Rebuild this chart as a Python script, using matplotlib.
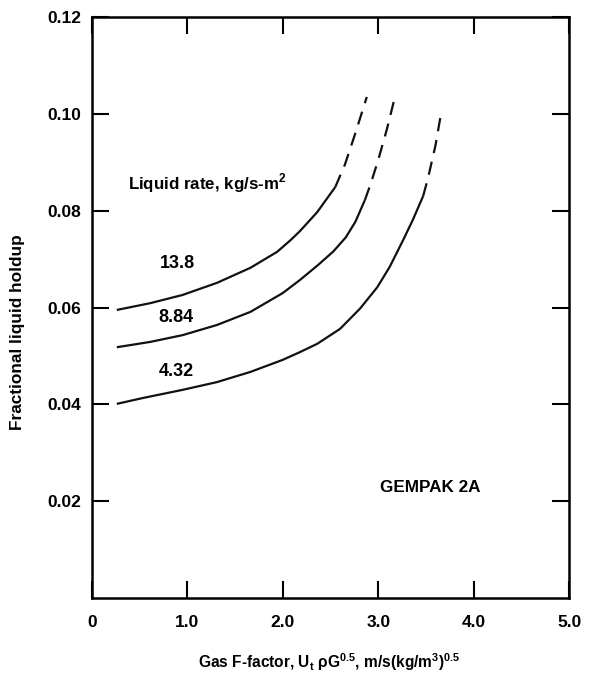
import matplotlib
matplotlib.use("Agg")
import matplotlib.pyplot as plt

plt.rcParams['font.family'] = ['Liberation Sans', 'DejaVu Sans']
plt.rcParams['font.weight'] = 'bold'
plt.rcParams['axes.labelweight'] = 'bold'
plt.rcParams['mathtext.fontset'] = 'custom'
plt.rcParams['mathtext.rm'] = 'Liberation Sans:bold'

# liquid rate labels (kg/s-m2)
rates = ["13.8", "8.84", "4.32"]

# solid (measured) parts of each curve
solid_x = [
    [0.26, 0.61, 0.95, 1.31, 1.66, 1.94, 2.08, 2.18, 2.36, 2.55],
    [0.26, 0.61, 0.95, 1.31, 1.66, 2.00, 2.18, 2.37, 2.53, 2.66, 2.76, 2.86],
    [0.26, 0.53, 0.95, 1.31, 1.66, 2.00, 2.18, 2.36, 2.60, 2.81, 2.99, 3.12, 3.26, 3.36, 3.47],
]
solid_y = [
    [0.0595, 0.0609, 0.0626, 0.0651, 0.0682, 0.0715, 0.0739, 0.0758, 0.0797, 0.0849],
    [0.0518, 0.0529, 0.0543, 0.0564, 0.0591, 0.0630, 0.0657, 0.0688, 0.0716, 0.0745, 0.0777, 0.0822],
    [0.0401, 0.0413, 0.0430, 0.0446, 0.0467, 0.0492, 0.0508, 0.0525, 0.0556, 0.0598, 0.0642, 0.0684, 0.0739, 0.0780, 0.0830],
]

# dashed (extrapolated) parts
dash_x = [
    [2.55, 2.65, 2.76, 2.88],
    [2.86, 2.92, 3.00, 3.09, 3.18],
    [3.47, 3.52, 3.60, 3.66],
]
dash_y = [
    [0.0849, 0.0895, 0.0960, 0.1035],
    [0.0822, 0.0855, 0.0905, 0.0968, 0.1039],
    [0.0830, 0.0866, 0.0935, 0.1003],
]

# where the rate labels sit
label_x = [0.90, 0.88, 0.88]
label_y = [0.0690, 0.0580, 0.0467]

xticks = [0, 1, 2, 3, 4, 5]
xticklabels = ["0", "1.0", "2.0", "3.0", "4.0", "5.0"]
yticks = [0.02, 0.04, 0.06, 0.08, 0.10, 0.12]
yticklabels = ["0.02", "0.04", "0.06", "0.08", "0.10", "0.12"]

fig = plt.figure(figsize=(5.89, 6.73), dpi=100)
ax = fig.add_axes([0.1562, 0.1114, 0.81, 0.8633])

for sx, sy, dx, dy in zip(solid_x, solid_y, dash_x, dash_y):
    ax.plot(sx, sy, color='#111111', lw=1.6, solid_capstyle='butt')
    ax.plot(dx, dy, color='#111111', lw=1.6, dashes=(6, 4), dash_capstyle='butt')

for txt, lx, ly in zip(rates, label_x, label_y):
    ax.text(lx, ly, txt, ha='center', va='center', fontsize=13)

ax.text(0.38, 0.0857, "Liquid rate, kg/s-m$^\\mathregular{2}$", ha='left', va='center', fontsize=12.2)
ax.text(3.54, 0.0229, "GEMPAK 2A", ha='center', va='center', fontsize=12.3)

ax.set_xlim(0, 5)
ax.set_ylim(0, 0.12)
ax.set_xticks(xticks)
ax.set_xticklabels(xticklabels, fontsize=12.5)
ax.set_yticks(yticks)
ax.set_yticklabels(yticklabels, fontsize=12.5)

ax.tick_params(axis='x', direction='in', length=12, width=1.5, top=True, pad=12)
ax.tick_params(axis='y', direction='in', length=12, width=1.5, right=True, pad=8)
for sp in ax.spines.values():
    sp.set_linewidth(1.8)

ax.set_xlabel("Gas F-factor, U$_\\mathregular{t}$ ρG$^\\mathregular{0.5}$, m/s(kg/m$^\\mathregular{3}$)$^\\mathregular{0.5}$",
              fontsize=11.2)
ax.xaxis.set_label_coords(0.497, -0.11)
ax.xaxis.label.set_va('center')
ax.set_ylabel("Fractional liquid holdup", fontsize=12.4)
ax.yaxis.set_label_coords(-0.157, 0.458)
ax.yaxis.label.set_va('center')

fig.savefig("out.png", dpi=100)
